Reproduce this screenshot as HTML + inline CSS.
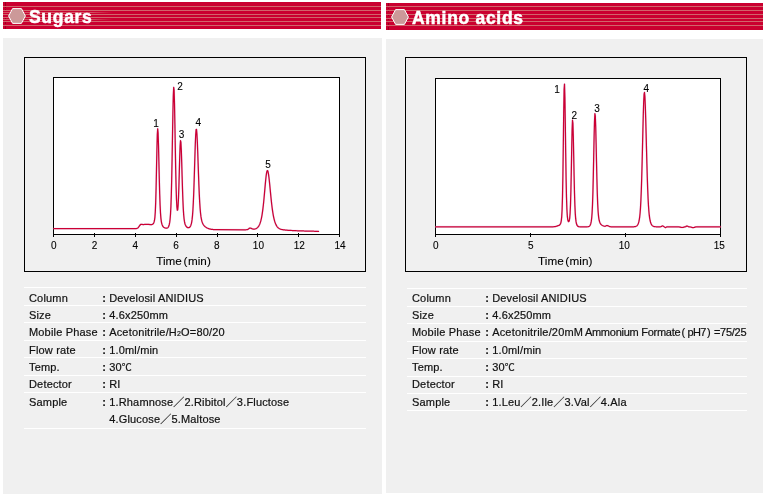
<!DOCTYPE html>
<html>
<head>
<meta charset="utf-8">
<title>Sugars / Amino acids</title>
<style>
html,body{margin:0;padding:0;background:#fff;}
body{width:764px;height:497px;position:relative;overflow:hidden;font-family:"Liberation Sans","Noto Sans CJK JP",sans-serif;color:#1a1a1a;}
.hdr{position:absolute;height:27px;background:#ca0030;overflow:hidden;}
.hdr i{position:absolute;left:0;right:0;height:1px;background:#d1666b;}
.hdr b{position:absolute;top:4px;font-size:17.5px;line-height:22px;color:#fff;font-weight:bold;letter-spacing:0.7px;-webkit-text-stroke:0.5px #fff;white-space:nowrap;}
.hdr svg{position:absolute;left:0;top:0;}
.hdr i.x{right:auto;width:110px;background:linear-gradient(90deg,#d5666d 0,#d5666d 80%,rgba(213,102,109,0) 100%);opacity:.8;}
.hdr u{position:absolute;left:2px;width:1px;background:#7a0018;opacity:.6;}
.panel{position:absolute;background:#f0f0f0;}
svg.chart{position:absolute;left:0;top:0;}
svg.chart text{font-family:"Liberation Sans",sans-serif;font-size:10px;fill:#000;stroke:#000;stroke-width:0.1px;}
svg.chart text.tl{font-size:11.7px;}
.tbl{position:absolute;font-size:11px;line-height:17.5px;letter-spacing:0.17px;color:#111;-webkit-text-stroke:0.2px #111;}
.row{position:absolute;left:0;right:0;height:17.5px;border-top:1px solid #fff;box-sizing:border-box;white-space:nowrap;}
.row span{position:absolute;top:1.5px;}
.rt .row span{top:0.5px;}
.row.u span{top:0.5px;}
.rt .row.u span{top:-0.5px;}
.row .k{left:5px;}
.row .c{left:78.3px;font-weight:bold;}
.row .v{left:85.2px;}
.endline{position:absolute;left:0;right:0;height:1px;background:#fff;}
sub{font-size:7px;vertical-align:baseline;position:relative;top:0.3px;line-height:0;}
</style>
</head>
<body>
<!-- headers -->
<div class="hdr" style="left:3px;top:2px;width:378px;">
<i style="top:4px"></i><i style="top:8px"></i><i style="top:12px"></i><i style="top:15px"></i><i style="top:19px"></i><i style="top:23px"></i><i class="x" style="top:10px"></i><i class="x" style="top:17px"></i><u style="top:0;height:4px"></u><u style="top:5px;height:1px"></u><u style="top:7px;height:1px"></u><u style="top:16px;height:1px"></u><u style="top:20px;height:2px"></u><u style="top:24px;height:3px"></u>
<svg width="30" height="27" viewBox="0 0 30 27"><polygon points="5.6,14 9.6,6.6 18.4,6.6 22.4,14 18.4,21.4 9.6,21.4" fill="#cc9999" stroke="#fff" stroke-width="1"/></svg>
<b style="left:26px;">Sugars</b>
</div>
<div class="hdr" style="left:386px;top:3px;width:377px;">
<i style="top:3px"></i><i style="top:7px"></i><i style="top:11px"></i><i style="top:15px"></i><i style="top:18px"></i><i style="top:22px"></i><u style="top:0;height:3px"></u><u style="top:5px;height:1px"></u><u style="top:8px;height:1px"></u><u style="top:12px;height:1px"></u><u style="top:16px;height:1px"></u><u style="top:20px;height:2px"></u><u style="top:24px;height:3px"></u>
<svg width="30" height="27" viewBox="0 0 30 27"><polygon points="5.6,14 9.6,6.6 18.4,6.6 22.4,14 18.4,21.4 9.6,21.4" fill="#cc9999" stroke="#fff" stroke-width="1"/></svg>
<b style="left:26px;">Amino acids</b>
</div>
<!-- panels -->
<div class="panel" style="left:3px;top:38px;width:379px;height:456px;"></div>
<div class="panel" style="left:386px;top:39px;width:377px;height:454px;"></div>

<svg class="chart" width="764" height="497" viewBox="0 0 764 497">
<g shape-rendering="crispEdges" fill="none" stroke="#000" stroke-width="1">
<rect x="24.5" y="57.5" width="341" height="214"/>
<rect x="53.5" y="77.5" width="286" height="157" fill="#fff"/>
<rect x="405.5" y="57.5" width="341" height="214"/>
<rect x="435.5" y="78.5" width="285" height="156" fill="#fff"/>
</g>
<g stroke="#000" stroke-width="1" shape-rendering="crispEdges">
<line x1="53.5" y1="233.0" x2="53.5" y2="237.0"/>
<line x1="94.5" y1="233.0" x2="94.5" y2="237.0"/>
<line x1="135.5" y1="233.0" x2="135.5" y2="237.0"/>
<line x1="176.5" y1="233.0" x2="176.5" y2="237.0"/>
<line x1="217.5" y1="233.0" x2="217.5" y2="237.0"/>
<line x1="257.5" y1="233.0" x2="257.5" y2="237.0"/>
<line x1="298.5" y1="233.0" x2="298.5" y2="237.0"/>
<line x1="339.5" y1="233.0" x2="339.5" y2="237.0"/>
<line x1="435.7" y1="233.0" x2="435.7" y2="237.0"/>
<line x1="530.7" y1="233.0" x2="530.7" y2="237.0"/>
<line x1="625.7" y1="233.0" x2="625.7" y2="237.0"/>
<line x1="720.7" y1="233.0" x2="720.7" y2="237.0"/>
</g>
<g fill="none" stroke-linejoin="round" stroke-linecap="round">
<path d="M53.7,228.60 L134.9,228.60 L135.3,228.59 L135.7,228.58 L136.1,228.56 L136.5,228.51 L136.9,228.42 L137.3,228.27 L137.7,228.03 L138.1,227.69 L138.5,227.23 L138.9,226.69 L139.3,226.09 L139.7,225.50 L140.1,224.99 L140.5,224.61 L140.9,224.39 L141.3,224.31 L141.7,224.33 L142.1,224.40 L142.5,224.48 L142.9,224.53 L143.3,224.54 L143.7,224.53 L144.1,224.50 L144.5,224.46 L144.9,224.43 L145.3,224.40 L145.7,224.37 L146.1,224.35 L146.5,224.34 L146.9,224.34 L147.3,224.35 L147.7,224.38 L148.1,224.41 L148.5,224.44 L148.9,224.47 L149.3,224.49 L149.7,224.51 L150.1,224.52 L150.5,224.53 L150.9,224.54 L151.3,224.54 L151.7,224.52 L152.1,224.45 L152.5,224.32 L152.9,224.07 L153.3,223.66 L153.7,222.99 L154.1,221.89 L154.5,220.22 L154.9,217.30 L155.3,211.83 L155.7,202.32 L156.1,187.87 L156.5,169.25 L156.9,149.75 L157.3,134.58 L157.7,128.75 L158.1,133.16 L158.5,145.32 L158.9,161.90 L159.3,179.08 L159.7,193.99 L160.1,205.29 L160.5,213.08 L160.9,218.13 L161.3,221.31 L161.7,223.34 L162.1,224.69 L162.5,225.63 L162.9,226.31 L163.3,226.81 L163.7,227.18 L164.1,227.47 L164.5,227.69 L164.9,227.86 L165.3,228.00 L165.7,228.10 L166.1,228.16 L166.5,228.17 L166.9,228.13 L167.3,228.01 L167.7,227.77 L168.1,227.37 L168.5,226.75 L168.9,225.83 L169.3,224.46 L169.7,222.40 L170.1,219.25 L170.5,214.32 L170.9,206.69 L171.3,195.26 L171.7,179.26 L172.1,158.83 L172.5,135.66 L172.9,113.13 L173.3,95.66 L173.7,87.26 L174.1,90.12 L174.5,103.65 L174.9,124.44 L175.3,147.82 L175.7,169.59 L176.1,187.11 L176.5,199.47 L176.9,206.96 L177.3,210.25 L177.7,209.82 L178.1,205.72 L178.5,197.79 L178.9,186.19 L179.3,172.02 L179.7,157.60 L180.1,146.11 L180.5,140.55 L180.9,142.19 L181.3,149.90 L181.7,161.89 L182.1,175.70 L182.5,189.01 L182.9,200.28 L183.3,208.89 L183.7,214.96 L184.1,219.03 L184.5,221.71 L184.9,223.50 L185.3,224.73 L185.7,225.61 L186.1,226.27 L186.5,226.76 L186.9,227.14 L187.3,227.41 L187.7,227.60 L188.1,227.71 L188.5,227.73 L188.9,227.66 L189.3,227.48 L189.7,227.19 L190.1,226.73 L190.5,226.09 L190.9,225.17 L191.3,223.88 L191.7,222.04 L192.1,219.40 L192.5,215.62 L192.9,210.31 L193.3,203.08 L193.7,193.71 L194.1,182.31 L194.5,169.44 L194.9,156.17 L195.3,144.04 L195.7,134.69 L196.1,129.58 L196.5,129.40 L196.9,133.46 L197.3,141.07 L197.7,151.23 L198.1,162.73 L198.5,174.39 L198.9,185.23 L199.3,194.62 L199.7,202.30 L200.1,208.28 L200.5,212.79 L200.9,216.13 L201.3,218.60 L201.7,220.47 L202.1,221.88 L202.5,222.96 L202.9,223.82 L203.3,224.53 L203.7,225.12 L204.1,225.62 L204.5,226.05 L204.9,226.43 L205.3,226.77 L205.7,227.08 L206.1,227.35 L206.5,227.60 L206.9,227.83 L207.3,228.04 L207.7,228.22 L208.1,228.40 L208.5,228.55 L208.9,228.69 L209.3,228.81 L209.7,228.92 L210.1,229.02 L210.5,229.11 L210.9,229.19 L211.3,229.26 L211.7,229.32 L212.1,229.37 L212.5,229.42 L212.9,229.47 L213.3,229.51 L213.7,229.55 L214.1,229.58 L214.5,229.59 L214.9,229.59 L215.3,229.60 L215.7,229.60 L245.3,229.76 L245.7,229.76 L246.1,229.75 L246.5,229.72 L246.9,229.67 L247.3,229.57 L247.7,229.42 L248.1,229.20 L248.5,228.92 L248.9,228.61 L249.3,228.33 L249.7,228.15 L250.1,228.09 L250.5,228.13 L250.9,228.24 L251.3,228.39 L251.7,228.57 L252.1,228.75 L252.5,228.90 L252.9,229.03 L253.3,229.11 L253.7,229.14 L254.1,229.13 L254.5,229.09 L254.9,229.01 L255.3,228.89 L255.7,228.75 L256.1,228.57 L256.5,228.35 L256.9,228.09 L257.3,227.78 L257.7,227.41 L258.1,226.96 L258.5,226.43 L258.9,225.80 L259.3,225.05 L259.7,224.17 L260.1,223.13 L260.5,221.91 L260.9,220.48 L261.3,218.80 L261.7,216.84 L262.1,214.57 L262.5,211.94 L262.9,208.92 L263.3,205.51 L263.7,201.70 L264.1,197.55 L264.5,193.14 L264.9,188.61 L265.3,184.14 L265.7,179.95 L266.1,176.28 L266.5,173.36 L266.9,171.40 L267.3,170.53 L267.7,170.78 L268.1,172.01 L268.5,174.13 L268.9,177.01 L269.3,180.49 L269.7,184.38 L270.1,188.50 L270.5,192.67 L270.9,196.75 L271.3,200.62 L271.7,204.21 L272.1,207.49 L272.5,210.42 L272.9,213.03 L273.3,215.32 L273.7,217.33 L274.1,219.07 L274.5,220.60 L274.9,221.92 L275.3,223.06 L275.7,224.05 L276.1,224.91 L276.5,225.65 L276.9,226.29 L277.3,226.83 L277.7,227.30 L278.1,227.70 L278.5,228.04 L278.9,228.33 L279.3,228.58 L279.7,228.80 L280.1,228.98 L280.5,229.14 L280.9,229.28 L281.3,229.40 L281.7,229.50 L282.1,229.59 L282.5,229.67 L282.9,229.74 L283.3,229.81 L283.7,229.86 L284.1,229.91 L284.5,229.95 L284.9,229.99 L285.3,230.04 L285.7,230.08 L286.1,230.12 L286.5,230.16 L286.9,230.20 L287.3,230.23 L287.7,230.26 L288.1,230.29 L288.5,230.32 L288.9,230.34 L289.3,230.37 L289.7,230.39 L290.1,230.42 L290.5,230.44 L290.9,230.46 L291.3,230.48 L291.7,230.50 L292.1,230.52 L292.5,230.54 L292.9,230.56 L293.3,230.58 L293.7,230.60 L294.1,230.62 L294.5,230.64 L294.9,230.66 L295.3,230.68 L295.7,230.70 L296.1,230.72 L296.5,230.74 L296.9,230.75 L297.3,230.77 L297.7,230.79 L298.1,230.81 L298.5,230.83 L298.9,230.85 L299.3,230.87 L299.7,230.89 L300.1,230.90 L300.5,230.91 L300.9,230.92 L301.3,230.93 L301.7,230.94 L302.1,230.95 L302.5,230.96 L302.9,230.97 L303.3,230.98 L303.7,230.99 L304.1,231.00 L304.5,231.01 L304.9,231.02 L305.3,231.03 L305.7,231.04 L306.1,231.05 L306.5,231.06 L306.9,231.07 L307.3,231.08 L307.7,231.09 L308.1,231.10 L308.5,231.11 L308.9,231.12 L309.3,231.13 L309.7,231.14 L310.1,231.15 L310.5,231.16 L310.9,231.17 L311.3,231.18 L311.7,231.19 L312.1,231.20 L312.5,231.21 L312.9,231.22 L313.3,231.23 L313.7,231.24 L314.1,231.25 L314.5,231.26 L314.9,231.27 L315.3,231.28 L315.7,231.29 L316.1,231.30 L316.5,231.31 L316.9,231.32 L317.3,231.33 L317.7,231.34 L318.1,231.35 L318.5,231.36" stroke="#c9a6dc" stroke-width="1.9" opacity="0.4"/>
<path d="M53.7,228.60 L134.9,228.60 L135.3,228.59 L135.7,228.58 L136.1,228.56 L136.5,228.51 L136.9,228.42 L137.3,228.27 L137.7,228.03 L138.1,227.69 L138.5,227.23 L138.9,226.69 L139.3,226.09 L139.7,225.50 L140.1,224.99 L140.5,224.61 L140.9,224.39 L141.3,224.31 L141.7,224.33 L142.1,224.40 L142.5,224.48 L142.9,224.53 L143.3,224.54 L143.7,224.53 L144.1,224.50 L144.5,224.46 L144.9,224.43 L145.3,224.40 L145.7,224.37 L146.1,224.35 L146.5,224.34 L146.9,224.34 L147.3,224.35 L147.7,224.38 L148.1,224.41 L148.5,224.44 L148.9,224.47 L149.3,224.49 L149.7,224.51 L150.1,224.52 L150.5,224.53 L150.9,224.54 L151.3,224.54 L151.7,224.52 L152.1,224.45 L152.5,224.32 L152.9,224.07 L153.3,223.66 L153.7,222.99 L154.1,221.89 L154.5,220.22 L154.9,217.30 L155.3,211.83 L155.7,202.32 L156.1,187.87 L156.5,169.25 L156.9,149.75 L157.3,134.58 L157.7,128.75 L158.1,133.16 L158.5,145.32 L158.9,161.90 L159.3,179.08 L159.7,193.99 L160.1,205.29 L160.5,213.08 L160.9,218.13 L161.3,221.31 L161.7,223.34 L162.1,224.69 L162.5,225.63 L162.9,226.31 L163.3,226.81 L163.7,227.18 L164.1,227.47 L164.5,227.69 L164.9,227.86 L165.3,228.00 L165.7,228.10 L166.1,228.16 L166.5,228.17 L166.9,228.13 L167.3,228.01 L167.7,227.77 L168.1,227.37 L168.5,226.75 L168.9,225.83 L169.3,224.46 L169.7,222.40 L170.1,219.25 L170.5,214.32 L170.9,206.69 L171.3,195.26 L171.7,179.26 L172.1,158.83 L172.5,135.66 L172.9,113.13 L173.3,95.66 L173.7,87.26 L174.1,90.12 L174.5,103.65 L174.9,124.44 L175.3,147.82 L175.7,169.59 L176.1,187.11 L176.5,199.47 L176.9,206.96 L177.3,210.25 L177.7,209.82 L178.1,205.72 L178.5,197.79 L178.9,186.19 L179.3,172.02 L179.7,157.60 L180.1,146.11 L180.5,140.55 L180.9,142.19 L181.3,149.90 L181.7,161.89 L182.1,175.70 L182.5,189.01 L182.9,200.28 L183.3,208.89 L183.7,214.96 L184.1,219.03 L184.5,221.71 L184.9,223.50 L185.3,224.73 L185.7,225.61 L186.1,226.27 L186.5,226.76 L186.9,227.14 L187.3,227.41 L187.7,227.60 L188.1,227.71 L188.5,227.73 L188.9,227.66 L189.3,227.48 L189.7,227.19 L190.1,226.73 L190.5,226.09 L190.9,225.17 L191.3,223.88 L191.7,222.04 L192.1,219.40 L192.5,215.62 L192.9,210.31 L193.3,203.08 L193.7,193.71 L194.1,182.31 L194.5,169.44 L194.9,156.17 L195.3,144.04 L195.7,134.69 L196.1,129.58 L196.5,129.40 L196.9,133.46 L197.3,141.07 L197.7,151.23 L198.1,162.73 L198.5,174.39 L198.9,185.23 L199.3,194.62 L199.7,202.30 L200.1,208.28 L200.5,212.79 L200.9,216.13 L201.3,218.60 L201.7,220.47 L202.1,221.88 L202.5,222.96 L202.9,223.82 L203.3,224.53 L203.7,225.12 L204.1,225.62 L204.5,226.05 L204.9,226.43 L205.3,226.77 L205.7,227.08 L206.1,227.35 L206.5,227.60 L206.9,227.83 L207.3,228.04 L207.7,228.22 L208.1,228.40 L208.5,228.55 L208.9,228.69 L209.3,228.81 L209.7,228.92 L210.1,229.02 L210.5,229.11 L210.9,229.19 L211.3,229.26 L211.7,229.32 L212.1,229.37 L212.5,229.42 L212.9,229.47 L213.3,229.51 L213.7,229.55 L214.1,229.58 L214.5,229.59 L214.9,229.59 L215.3,229.60 L215.7,229.60 L245.3,229.76 L245.7,229.76 L246.1,229.75 L246.5,229.72 L246.9,229.67 L247.3,229.57 L247.7,229.42 L248.1,229.20 L248.5,228.92 L248.9,228.61 L249.3,228.33 L249.7,228.15 L250.1,228.09 L250.5,228.13 L250.9,228.24 L251.3,228.39 L251.7,228.57 L252.1,228.75 L252.5,228.90 L252.9,229.03 L253.3,229.11 L253.7,229.14 L254.1,229.13 L254.5,229.09 L254.9,229.01 L255.3,228.89 L255.7,228.75 L256.1,228.57 L256.5,228.35 L256.9,228.09 L257.3,227.78 L257.7,227.41 L258.1,226.96 L258.5,226.43 L258.9,225.80 L259.3,225.05 L259.7,224.17 L260.1,223.13 L260.5,221.91 L260.9,220.48 L261.3,218.80 L261.7,216.84 L262.1,214.57 L262.5,211.94 L262.9,208.92 L263.3,205.51 L263.7,201.70 L264.1,197.55 L264.5,193.14 L264.9,188.61 L265.3,184.14 L265.7,179.95 L266.1,176.28 L266.5,173.36 L266.9,171.40 L267.3,170.53 L267.7,170.78 L268.1,172.01 L268.5,174.13 L268.9,177.01 L269.3,180.49 L269.7,184.38 L270.1,188.50 L270.5,192.67 L270.9,196.75 L271.3,200.62 L271.7,204.21 L272.1,207.49 L272.5,210.42 L272.9,213.03 L273.3,215.32 L273.7,217.33 L274.1,219.07 L274.5,220.60 L274.9,221.92 L275.3,223.06 L275.7,224.05 L276.1,224.91 L276.5,225.65 L276.9,226.29 L277.3,226.83 L277.7,227.30 L278.1,227.70 L278.5,228.04 L278.9,228.33 L279.3,228.58 L279.7,228.80 L280.1,228.98 L280.5,229.14 L280.9,229.28 L281.3,229.40 L281.7,229.50 L282.1,229.59 L282.5,229.67 L282.9,229.74 L283.3,229.81 L283.7,229.86 L284.1,229.91 L284.5,229.95 L284.9,229.99 L285.3,230.04 L285.7,230.08 L286.1,230.12 L286.5,230.16 L286.9,230.20 L287.3,230.23 L287.7,230.26 L288.1,230.29 L288.5,230.32 L288.9,230.34 L289.3,230.37 L289.7,230.39 L290.1,230.42 L290.5,230.44 L290.9,230.46 L291.3,230.48 L291.7,230.50 L292.1,230.52 L292.5,230.54 L292.9,230.56 L293.3,230.58 L293.7,230.60 L294.1,230.62 L294.5,230.64 L294.9,230.66 L295.3,230.68 L295.7,230.70 L296.1,230.72 L296.5,230.74 L296.9,230.75 L297.3,230.77 L297.7,230.79 L298.1,230.81 L298.5,230.83 L298.9,230.85 L299.3,230.87 L299.7,230.89 L300.1,230.90 L300.5,230.91 L300.9,230.92 L301.3,230.93 L301.7,230.94 L302.1,230.95 L302.5,230.96 L302.9,230.97 L303.3,230.98 L303.7,230.99 L304.1,231.00 L304.5,231.01 L304.9,231.02 L305.3,231.03 L305.7,231.04 L306.1,231.05 L306.5,231.06 L306.9,231.07 L307.3,231.08 L307.7,231.09 L308.1,231.10 L308.5,231.11 L308.9,231.12 L309.3,231.13 L309.7,231.14 L310.1,231.15 L310.5,231.16 L310.9,231.17 L311.3,231.18 L311.7,231.19 L312.1,231.20 L312.5,231.21 L312.9,231.22 L313.3,231.23 L313.7,231.24 L314.1,231.25 L314.5,231.26 L314.9,231.27 L315.3,231.28 L315.7,231.29 L316.1,231.30 L316.5,231.31 L316.9,231.32 L317.3,231.33 L317.7,231.34 L318.1,231.35 L318.5,231.36" stroke="#cc0033" stroke-width="1.25"/>
<path d="M435.7,226.80 L551.7,226.79 L552.1,226.79 L552.5,226.78 L552.9,226.77 L553.3,226.76 L553.7,226.74 L554.1,226.71 L554.5,226.67 L554.9,226.61 L555.3,226.54 L555.7,226.46 L556.1,226.36 L556.5,226.24 L556.9,226.10 L557.3,225.96 L557.7,225.81 L558.1,225.66 L558.5,225.51 L558.9,225.34 L559.3,225.15 L559.7,224.87 L560.1,224.43 L560.5,223.73 L560.9,222.59 L561.3,220.57 L561.7,216.84 L562.1,209.75 L562.5,196.74 L562.9,175.30 L563.3,145.63 L563.7,113.47 L564.1,89.58 L564.5,84.06 L564.9,97.21 L565.3,122.98 L565.7,152.65 L566.1,178.66 L566.5,197.46 L566.9,209.20 L567.3,215.82 L567.7,219.30 L568.1,221.02 L568.5,221.67 L568.9,221.53 L569.3,220.49 L569.7,218.08 L570.1,213.31 L570.5,204.67 L570.9,190.73 L571.3,171.37 L571.7,149.25 L572.1,130.03 L572.5,120.22 L572.9,123.04 L573.3,136.22 L573.7,155.51 L574.1,175.75 L574.5,193.01 L574.9,205.63 L575.3,213.89 L575.7,218.93 L576.1,221.94 L576.5,223.77 L576.9,224.92 L577.3,225.66 L577.7,226.13 L578.1,226.42 L578.5,226.59 L578.9,226.69 L579.3,226.75 L579.7,226.77 L580.1,226.79 L580.5,226.79 L586.5,226.79 L586.9,226.79 L587.3,226.77 L587.7,226.75 L588.1,226.70 L588.5,226.62 L588.9,226.48 L589.3,226.24 L589.7,225.88 L590.1,225.31 L590.5,224.46 L590.9,223.16 L591.3,221.17 L591.7,217.98 L592.1,212.85 L592.5,204.75 L592.9,192.69 L593.3,176.36 L593.7,156.86 L594.1,137.09 L594.5,121.30 L594.9,113.61 L595.3,115.83 L595.7,126.46 L596.1,142.86 L596.5,161.46 L596.9,179.01 L597.3,193.46 L597.7,204.12 L598.1,211.33 L598.5,215.96 L598.9,218.87 L599.3,220.78 L599.7,222.12 L600.1,223.07 L600.5,223.76 L600.9,224.28 L601.3,224.68 L601.7,225.00 L602.1,225.27 L602.5,225.50 L602.9,225.70 L603.3,225.88 L603.7,226.03 L604.1,226.16 L604.5,226.25 L604.9,226.27 L605.3,226.21 L605.7,226.05 L606.1,225.82 L606.5,225.61 L606.9,225.51 L607.3,225.56 L607.7,225.68 L608.1,225.85 L608.5,226.05 L608.9,226.25 L609.3,226.42 L609.7,226.56 L610.1,226.65 L610.5,226.72 L610.9,226.76 L611.3,226.78 L611.7,226.79 L612.1,226.80 L632.5,226.79 L632.9,226.79 L633.3,226.78 L633.7,226.76 L634.1,226.74 L634.5,226.71 L634.9,226.65 L635.3,226.57 L635.7,226.46 L636.1,226.29 L636.5,226.06 L636.9,225.74 L637.3,225.31 L637.7,224.73 L638.1,223.95 L638.5,222.90 L638.9,221.49 L639.3,219.53 L639.7,216.81 L640.1,212.98 L640.5,207.62 L640.9,200.28 L641.3,190.54 L641.7,178.20 L642.1,163.42 L642.5,146.91 L642.9,129.94 L643.3,114.22 L643.7,101.70 L644.1,94.08 L644.5,92.47 L644.9,96.51 L645.3,105.43 L645.7,118.11 L646.1,133.11 L646.5,148.88 L646.9,164.10 L647.3,177.78 L647.7,189.38 L648.1,198.74 L648.5,205.99 L648.9,211.44 L649.3,215.44 L649.7,218.37 L650.1,220.51 L650.5,222.08 L650.9,223.26 L651.3,224.16 L651.7,224.84 L652.1,225.35 L652.5,225.75 L652.9,226.05 L653.3,226.27 L653.7,226.43 L654.1,226.55 L654.5,226.63 L654.9,226.69 L655.3,226.73 L655.7,226.75 L656.1,226.77 L656.5,226.78 L656.9,226.79 L657.3,226.79 L659.7,226.80 L660.1,226.79 L660.5,226.76 L660.9,226.68 L661.3,226.51 L661.7,226.25 L662.1,226.01 L662.5,225.90 L662.9,226.01 L663.3,226.26 L663.7,226.52 L664.1,226.73 L664.5,226.96 L664.9,227.28 L665.3,227.55 L665.7,227.56 L666.1,227.29 L666.5,227.00 L666.9,226.85 L667.3,226.81 L667.7,226.80 L677.3,226.81 L677.7,226.81 L678.1,226.82 L678.5,226.85 L678.9,226.88 L679.3,226.94 L679.7,227.02 L680.1,227.11 L680.5,227.22 L680.9,227.33 L681.3,227.43 L681.7,227.49 L682.1,227.50 L682.5,227.46 L682.9,227.38 L683.3,227.28 L683.7,227.17 L684.1,227.06 L684.5,226.97 L684.9,226.88 L685.3,226.78 L685.7,226.62 L686.1,226.39 L686.5,226.15 L686.9,226.01 L687.3,226.06 L687.7,226.26 L688.1,226.49 L688.5,226.67 L688.9,226.77 L689.3,226.83 L689.7,226.87 L690.1,226.92 L690.5,227.00 L690.9,227.10 L691.3,227.22 L691.7,227.35 L692.1,227.47 L692.5,227.56 L692.9,227.60 L693.3,227.58 L693.7,227.52 L694.1,227.41 L694.5,227.29 L694.9,227.16 L695.3,227.05 L695.7,226.96 L696.1,226.89 L696.5,226.85 L696.9,226.83 L697.3,226.81 L697.7,226.81 L720.5,226.80" stroke="#c9a6dc" stroke-width="1.9" opacity="0.4"/>
<path d="M435.7,226.80 L551.7,226.79 L552.1,226.79 L552.5,226.78 L552.9,226.77 L553.3,226.76 L553.7,226.74 L554.1,226.71 L554.5,226.67 L554.9,226.61 L555.3,226.54 L555.7,226.46 L556.1,226.36 L556.5,226.24 L556.9,226.10 L557.3,225.96 L557.7,225.81 L558.1,225.66 L558.5,225.51 L558.9,225.34 L559.3,225.15 L559.7,224.87 L560.1,224.43 L560.5,223.73 L560.9,222.59 L561.3,220.57 L561.7,216.84 L562.1,209.75 L562.5,196.74 L562.9,175.30 L563.3,145.63 L563.7,113.47 L564.1,89.58 L564.5,84.06 L564.9,97.21 L565.3,122.98 L565.7,152.65 L566.1,178.66 L566.5,197.46 L566.9,209.20 L567.3,215.82 L567.7,219.30 L568.1,221.02 L568.5,221.67 L568.9,221.53 L569.3,220.49 L569.7,218.08 L570.1,213.31 L570.5,204.67 L570.9,190.73 L571.3,171.37 L571.7,149.25 L572.1,130.03 L572.5,120.22 L572.9,123.04 L573.3,136.22 L573.7,155.51 L574.1,175.75 L574.5,193.01 L574.9,205.63 L575.3,213.89 L575.7,218.93 L576.1,221.94 L576.5,223.77 L576.9,224.92 L577.3,225.66 L577.7,226.13 L578.1,226.42 L578.5,226.59 L578.9,226.69 L579.3,226.75 L579.7,226.77 L580.1,226.79 L580.5,226.79 L586.5,226.79 L586.9,226.79 L587.3,226.77 L587.7,226.75 L588.1,226.70 L588.5,226.62 L588.9,226.48 L589.3,226.24 L589.7,225.88 L590.1,225.31 L590.5,224.46 L590.9,223.16 L591.3,221.17 L591.7,217.98 L592.1,212.85 L592.5,204.75 L592.9,192.69 L593.3,176.36 L593.7,156.86 L594.1,137.09 L594.5,121.30 L594.9,113.61 L595.3,115.83 L595.7,126.46 L596.1,142.86 L596.5,161.46 L596.9,179.01 L597.3,193.46 L597.7,204.12 L598.1,211.33 L598.5,215.96 L598.9,218.87 L599.3,220.78 L599.7,222.12 L600.1,223.07 L600.5,223.76 L600.9,224.28 L601.3,224.68 L601.7,225.00 L602.1,225.27 L602.5,225.50 L602.9,225.70 L603.3,225.88 L603.7,226.03 L604.1,226.16 L604.5,226.25 L604.9,226.27 L605.3,226.21 L605.7,226.05 L606.1,225.82 L606.5,225.61 L606.9,225.51 L607.3,225.56 L607.7,225.68 L608.1,225.85 L608.5,226.05 L608.9,226.25 L609.3,226.42 L609.7,226.56 L610.1,226.65 L610.5,226.72 L610.9,226.76 L611.3,226.78 L611.7,226.79 L612.1,226.80 L632.5,226.79 L632.9,226.79 L633.3,226.78 L633.7,226.76 L634.1,226.74 L634.5,226.71 L634.9,226.65 L635.3,226.57 L635.7,226.46 L636.1,226.29 L636.5,226.06 L636.9,225.74 L637.3,225.31 L637.7,224.73 L638.1,223.95 L638.5,222.90 L638.9,221.49 L639.3,219.53 L639.7,216.81 L640.1,212.98 L640.5,207.62 L640.9,200.28 L641.3,190.54 L641.7,178.20 L642.1,163.42 L642.5,146.91 L642.9,129.94 L643.3,114.22 L643.7,101.70 L644.1,94.08 L644.5,92.47 L644.9,96.51 L645.3,105.43 L645.7,118.11 L646.1,133.11 L646.5,148.88 L646.9,164.10 L647.3,177.78 L647.7,189.38 L648.1,198.74 L648.5,205.99 L648.9,211.44 L649.3,215.44 L649.7,218.37 L650.1,220.51 L650.5,222.08 L650.9,223.26 L651.3,224.16 L651.7,224.84 L652.1,225.35 L652.5,225.75 L652.9,226.05 L653.3,226.27 L653.7,226.43 L654.1,226.55 L654.5,226.63 L654.9,226.69 L655.3,226.73 L655.7,226.75 L656.1,226.77 L656.5,226.78 L656.9,226.79 L657.3,226.79 L659.7,226.80 L660.1,226.79 L660.5,226.76 L660.9,226.68 L661.3,226.51 L661.7,226.25 L662.1,226.01 L662.5,225.90 L662.9,226.01 L663.3,226.26 L663.7,226.52 L664.1,226.73 L664.5,226.96 L664.9,227.28 L665.3,227.55 L665.7,227.56 L666.1,227.29 L666.5,227.00 L666.9,226.85 L667.3,226.81 L667.7,226.80 L677.3,226.81 L677.7,226.81 L678.1,226.82 L678.5,226.85 L678.9,226.88 L679.3,226.94 L679.7,227.02 L680.1,227.11 L680.5,227.22 L680.9,227.33 L681.3,227.43 L681.7,227.49 L682.1,227.50 L682.5,227.46 L682.9,227.38 L683.3,227.28 L683.7,227.17 L684.1,227.06 L684.5,226.97 L684.9,226.88 L685.3,226.78 L685.7,226.62 L686.1,226.39 L686.5,226.15 L686.9,226.01 L687.3,226.06 L687.7,226.26 L688.1,226.49 L688.5,226.67 L688.9,226.77 L689.3,226.83 L689.7,226.87 L690.1,226.92 L690.5,227.00 L690.9,227.10 L691.3,227.22 L691.7,227.35 L692.1,227.47 L692.5,227.56 L692.9,227.60 L693.3,227.58 L693.7,227.52 L694.1,227.41 L694.5,227.29 L694.9,227.16 L695.3,227.05 L695.7,226.96 L696.1,226.89 L696.5,226.85 L696.9,226.83 L697.3,226.81 L697.7,226.81 L720.5,226.80" stroke="#cc0033" stroke-width="1.25"/>
</g>
<g>
<text x="53.7" y="249.1" text-anchor="middle">0</text>
<text x="94.5" y="249.1" text-anchor="middle">2</text>
<text x="135.3" y="249.1" text-anchor="middle">4</text>
<text x="176.0" y="249.1" text-anchor="middle">6</text>
<text x="216.8" y="249.1" text-anchor="middle">8</text>
<text x="258.4" y="249.1" text-anchor="middle">10</text>
<text x="299.2" y="249.1" text-anchor="middle">12</text>
<text x="340.0" y="249.1" text-anchor="middle">14</text>
<text x="435.7" y="249.1" text-anchor="middle">0</text>
<text x="530.7" y="249.1" text-anchor="middle">5</text>
<text x="624.2" y="249.1" text-anchor="middle">10</text>
<text x="719.2" y="249.1" text-anchor="middle">15</text>
<text class="tl" y="264.6"><tspan x="156.2">Time</tspan> <tspan x="183.6">(</tspan><tspan x="187.9">min</tspan><tspan x="207.1">)</tspan></text>
<text class="tl" y="264.6"><tspan x="538.1">Time</tspan> <tspan x="565.2">(</tspan><tspan x="569.6">min</tspan><tspan x="588.6">)</tspan></text>
<text x="156.1" y="126.9" text-anchor="middle">1</text>
<text x="180" y="90" text-anchor="middle">2</text>
<text x="181.5" y="138" text-anchor="middle">3</text>
<text x="198.3" y="125.9" text-anchor="middle">4</text>
<text x="268" y="168" text-anchor="middle">5</text>
<text x="557" y="92.8" text-anchor="middle">1</text>
<text x="574.2" y="119" text-anchor="middle">2</text>
<text x="597" y="112" text-anchor="middle">3</text>
<text x="646.2" y="92" text-anchor="middle">4</text>
</g>
</svg>

<!-- left table -->
<div class="tbl" style="left:24px;top:287px;width:342px;height:142px;">
<div class="row" style="top:0"><span class="k">Column</span><span class="c">:</span><span class="v">Develosil ANIDIUS</span></div>
<div class="row" style="top:17.5px"><span class="k">Size</span><span class="c">:</span><span class="v">4.6x250mm</span></div>
<div class="row u" style="top:35px"><span class="k">Mobile Phase</span><span class="c">:</span><span class="v">Acetonitrile/H<sub>2</sub>O=80/20</span></div>
<div class="row" style="top:52.5px"><span class="k">Flow rate</span><span class="c">:</span><span class="v">1.0ml/min</span></div>
<div class="row u" style="top:70px"><span class="k">Temp.</span><span class="c">:</span><span class="v">30<span style="position:static;font-size:10px">℃</span></span></div>
<div class="row u" style="top:87.5px"><span class="k">Detector</span><span class="c">:</span><span class="v">RI</span></div>
<div class="row u" style="top:105px;height:36px"><span class="k">Sample</span><span class="c">:</span><span class="v">1.Rhamnose／2.Ribitol／3.Fluctose</span><span class="v" style="top:18px">4.Glucose／5.Maltose</span></div>
<div class="endline" style="top:141px"></div>
</div>

<!-- right table -->
<div class="tbl rt" style="left:407px;top:288px;width:340px;height:124px;">
<div class="row" style="top:0"><span class="k">Column</span><span class="c">:</span><span class="v">Develosil ANIDIUS</span></div>
<div class="row" style="top:17.5px"><span class="k">Size</span><span class="c">:</span><span class="v">4.6x250mm</span></div>
<div class="row u" style="top:35px"><span class="k">Mobile Phase</span><span class="c">:</span><span class="v">Acetonitrile/20mM</span><span style="left:177.9px;letter-spacing:-0.26px">Ammonium Formate</span><span style="left:274.6px">(</span><span style="left:280.4px;letter-spacing:-0.55px">pH7</span><span style="left:300.1px">)</span><span style="left:306.9px;letter-spacing:-0.25px">=75/25</span></div>
<div class="row" style="top:52.5px"><span class="k">Flow rate</span><span class="c">:</span><span class="v">1.0ml/min</span></div>
<div class="row u" style="top:70px"><span class="k">Temp.</span><span class="c">:</span><span class="v">30<span style="position:static;font-size:10px">℃</span></span></div>
<div class="row u" style="top:87.5px"><span class="k">Detector</span><span class="c">:</span><span class="v">RI</span></div>
<div class="row u" style="top:105px"><span class="k">Sample</span><span class="c">:</span><span class="v">1.Leu／2.Ile／3.Val／4.Ala</span></div>
<div class="endline" style="top:122px"></div>
</div>
</body>
</html>
